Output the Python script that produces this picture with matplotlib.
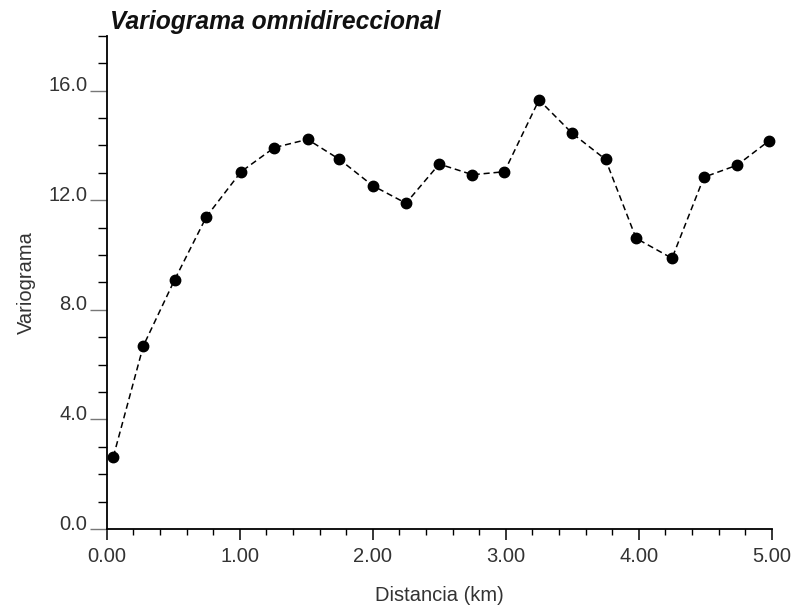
import numpy as np
import matplotlib
matplotlib.use('Agg')
import matplotlib.pyplot as plt
import matplotlib.transforms as mtransforms
from matplotlib.ticker import MultipleLocator, FormatStrFormatter

plt.rcParams['font.family'] = ['Liberation Sans', 'DejaVu Sans']

# distancia (km) y variograma
distancia = [0.05, 0.275, 0.51, 0.75, 1.01, 1.26, 1.51, 1.75, 2.00, 2.25, 2.50,
             2.75, 2.99, 3.25, 3.50, 3.75, 3.98, 4.25, 4.49, 4.74, 4.98]
variograma = [2.64, 6.68, 9.09, 11.40, 13.04, 13.92, 14.22, 13.49, 12.53, 11.89, 13.32,
              12.93, 13.04, 15.66, 14.44, 13.49, 10.61, 9.88, 12.84, 13.28, 14.17]

titulo = 'Variograma omnidireccional'
xlab = 'Distancia (km)'
ylab = 'Variograma'

fig = plt.figure(figsize=(7.94, 6.07), dpi=100)
ax = fig.add_axes([0.1344, 0.1285, 0.972 - 0.1344, 0.941 - 0.1285])

ax.plot(distancia, variograma, color='k', ls='--', lw=1.1, dashes=(4, 2.5),
        marker='o', ms=7.5, mfc='k', mec='k', clip_on=False)

ax.set_xlim(0, 5)
ax.set_ylim(0, 18)
ax.spines['top'].set_visible(False)
ax.spines['right'].set_visible(False)
ax.spines['left'].set_linewidth(1.3)
ax.spines['bottom'].set_linewidth(1.3)

ax.xaxis.set_major_locator(MultipleLocator(1.0))
ax.xaxis.set_minor_locator(MultipleLocator(0.2))
ax.yaxis.set_major_locator(MultipleLocator(4.0))
ax.yaxis.set_minor_locator(MultipleLocator(1.0))
ax.xaxis.set_major_formatter(FormatStrFormatter('%.2f'))
ax.yaxis.set_major_formatter(FormatStrFormatter('%.1f'))

ax.tick_params(axis='x', which='major', length=8, width=1.1, pad=5, labelsize=14.5, labelcolor='#333333')
ax.tick_params(axis='x', which='minor', length=4.5, width=1.0)
ax.tick_params(axis='y', which='major', length=12, width=1.0, color='#777777', pad=2, labelsize=14.5, labelcolor='#333333')
ax.tick_params(axis='y', which='minor', length=6.5, width=1.0)

# etiquetas del eje y un poco por encima de la marca
offset = mtransforms.ScaledTranslation(0, 5 / 72, fig.dpi_scale_trans)
for lab in ax.get_yticklabels():
    lab.set_transform(lab.get_transform() + offset)

ax.set_xlabel(xlab, fontsize=14.5, color='#333333', labelpad=14)
ax.set_ylabel(ylab, fontsize=14.5, color='#333333', labelpad=9)

fig.text(110 / 794, 1 - 22 / 607, titulo, fontsize=17.7, fontweight='bold', fontstyle='italic',
         ha='left', va='center', color='#111111')

fig.savefig('out.png', dpi=100)
